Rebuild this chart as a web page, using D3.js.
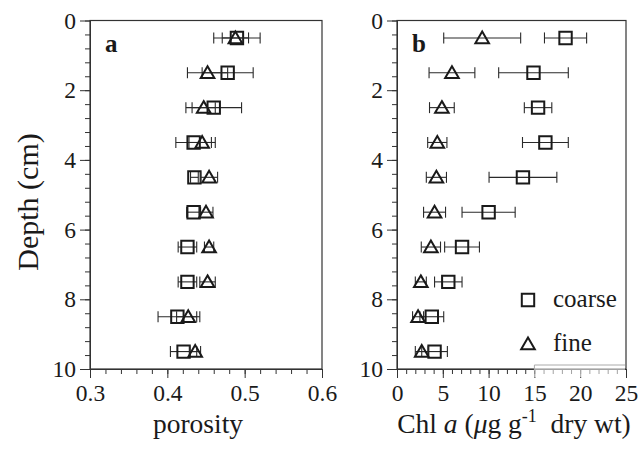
<!DOCTYPE html>
<html>
<head>
<meta charset="utf-8">
<script src="https://cdn.jsdelivr.net/npm/d3@7"></script>
<style>
  body { margin: 0; background: #fff; }
  svg text { font-family: "Liberation Serif", "Times New Roman", serif; fill: #1a1a1a; }
</style>
</head>
<body>
<svg id="chart" width="639" height="450"></svg>
<script>
// depth of each slice (cm)
var depth = [0.5, 1.5, 2.5, 3.5, 4.5, 5.5, 6.5, 7.5, 8.5, 9.5];

// porosity
var porCoarse    = [0.490, 0.478, 0.460, 0.434, 0.435, 0.434, 0.426, 0.426, 0.413, 0.421];
var porCoarseErr = [0.030, 0.033, 0.036, 0.023, 0.005, 0.009, 0.012, 0.012, 0.025, 0.017];
var porFine      = [0.488, 0.452, 0.447, 0.445, 0.454, 0.450, 0.454, 0.452, 0.427, 0.436];
var porFineErr   = [0.017, 0.026, 0.015, 0.017, 0.011, 0.009, 0.006, 0.010, 0.015, 0.007];

// Chl a (ug/g dry wt)
var chlCoarse    = [18.4, 14.9, 15.4, 16.2, 13.75, 10.0, 7.1, 5.6, 3.8, 4.1];
var chlCoarseErr = [2.3, 3.8, 1.5, 2.5, 3.7, 2.9, 1.9, 1.5, 1.3, 1.4];
var chlFine      = [9.3, 6.0, 4.9, 4.4, 4.3, 4.1, 3.7, 2.6, 2.3, 2.7];
var chlFineErr   = [4.2, 2.5, 1.35, 1.05, 1.1, 1.2, 1.05, 0.6, 0.6, 0.7];

var depthTicks = [0, 2, 4, 6, 8, 10];
var porTicks = [0.3, 0.4, 0.5, 0.6];
var chlTicks = [0, 5, 10, 15, 20, 25];
var legendNames = ["coarse", "fine"];

var svg = d3.select("#chart");
var ink = "#1a1a1a";

var y = d3.scaleLinear().domain([0, 10]).range([20.5, 369]);
var xa = d3.scaleLinear().domain([0.3, 0.6]).range([90, 322]);
var xb = d3.scaleLinear().domain([0, 25]).range([397, 626]);

var tri = "M0,-6.5L6.8,5.2L-6.8,5.2Z";
var sq = "M-6.2,-6.2H6.2V6.2H-6.2Z";

function drawPanel(x, xTicks, xMinorStep, fmt, series, label) {
  var g = svg.append("g");
  var x0 = x.range()[0], x1 = x.range()[1];
  var y0 = y.range()[0], y1 = y.range()[1];

  // minor ticks
  var dom = x.domain();
  var xMinor = d3.range(dom[0], dom[1] + xMinorStep / 2, xMinorStep);
  g.append("g")
    .attr("transform", `translate(0,${y1})`)
    .call(d3.axisBottom(x).tickValues(xMinor).tickSize(5).tickSizeOuter(0).tickFormat(""));
  g.append("g")
    .attr("transform", `translate(${x0},0)`)
    .call(d3.axisLeft(y).tickValues(d3.range(0, 10.01, 0.4)).tickSize(5).tickSizeOuter(0).tickFormat(""));

  // major ticks
  g.append("g")
    .attr("class", "xax")
    .attr("transform", `translate(0,${y1})`)
    .call(d3.axisBottom(x).tickValues(xTicks).tickSize(9).tickSizeOuter(0).tickPadding(6).tickFormat(fmt));
  g.append("g")
    .attr("class", "yax")
    .attr("transform", `translate(${x0},0)`)
    .call(d3.axisLeft(y).tickValues(depthTicks).tickSize(10).tickSizeOuter(0).tickPadding(4).tickFormat(d3.format("d")));

  g.selectAll(".tick line, .domain").attr("stroke", "#333");
  g.selectAll(".tick text").style("font-family", "Liberation Serif").style("font-size", "23.5px").attr("fill", ink);

  // frame
  g.append("rect")
    .attr("x", x0).attr("y", y0)
    .attr("width", x1 - x0).attr("height", y1 - y0)
    .attr("fill", "none").attr("stroke", "#333").attr("stroke-width", 1.2);

  // error bars + markers
  series.forEach(function(s) {
    var pts = depth.map(function(d, i) { return { d: d, v: s.vals[i], e: s.err[i] }; });
    var eb = g.append("g").attr("stroke", "#2a2a2a").attr("stroke-width", 1.1);
    eb.selectAll(".bar").data(pts).enter().append("line")
      .attr("x1", function(p) { return x(p.v - p.e); })
      .attr("x2", function(p) { return x(p.v + p.e); })
      .attr("y1", function(p) { return y(p.d); })
      .attr("y2", function(p) { return y(p.d); });
    [-1, 1].forEach(function(sign) {
      eb.selectAll(".cap" + sign).data(pts).enter().append("line")
        .attr("x1", function(p) { return x(p.v + sign * p.e); })
        .attr("x2", function(p) { return x(p.v + sign * p.e); })
        .attr("y1", function(p) { return y(p.d) - 5.5; })
        .attr("y2", function(p) { return y(p.d) + 5.5; });
    });
    g.selectAll(".m" + s.name).data(pts).enter().append("path")
      .attr("d", s.shape)
      .attr("transform", function(p) { return `translate(${x(p.v)},${y(p.d)})`; })
      .attr("fill", "none").attr("stroke", ink).attr("stroke-width", 2);
  });

  g.append("text")
    .attr("x", x0 + 15).attr("y", y0 + 31)
    .style("font-size", "25px").style("font-weight", "bold")
    .text(label);
  return g;
}

drawPanel(xa, porTicks, 0.02, d3.format(".1f"), [
  { name: "c", vals: porCoarse, err: porCoarseErr, shape: sq },
  { name: "f", vals: porFine, err: porFineErr, shape: tri }
], "a");

var gb = drawPanel(xb, chlTicks, 1, d3.format("d"), [
  { name: "c", vals: chlCoarse, err: chlCoarseErr, shape: sq },
  { name: "f", vals: chlFine, err: chlFineErr, shape: tri }
], "b");

// faint box left over at bottom right of panel b
gb.append("rect")
  .attr("x", xb(15)).attr("y", 365)
  .attr("width", xb(25) - xb(15) - 1).attr("height", 12)
  .attr("fill", "#fff").attr("fill-opacity", 0.55)
  .attr("stroke", "none");
gb.append("path")
  .attr("d", `M${xb(15)},371V365H${xb(25) - 1}`)
  .attr("fill", "none").attr("stroke", "#aaa").attr("stroke-width", 1);

// legend
var legend = svg.append("g");
[sq, tri].forEach(function(shape, i) {
  var ly = 300 + i * 44;
  legend.append("path")
    .attr("d", shape)
    .attr("transform", `translate(528,${ly})`)
    .attr("fill", "none").attr("stroke", ink).attr("stroke-width", 2);
  legend.append("text")
    .attr("x", 553).attr("y", ly + 7)
    .style("font-size", "25px")
    .text(legendNames[i]);
});

// axis titles
svg.append("text")
  .attr("transform", "translate(38,202) rotate(-90)")
  .style("text-anchor", "middle").style("font-size", "30px")
  .text("Depth (cm)");

svg.append("text")
  .attr("x", 198).attr("y", 433)
  .style("text-anchor", "middle").style("font-size", "27.5px")
  .text("porosity");

var chl = svg.append("text")
  .attr("x", 514).attr("y", 433)
  .style("text-anchor", "middle").style("font-size", "27.5px");
chl.append("tspan").text("Chl ");
chl.append("tspan").style("font-style", "italic").text("a");
chl.append("tspan").text(" (");
chl.append("tspan").style("font-style", "italic").text("\u03bc");
chl.append("tspan").text("g g");
chl.append("tspan").attr("dy", -11).style("font-size", "18px").text("-1");
chl.append("tspan").attr("dy", 11).text("\u00a0 dry wt)");
</script>
</body>
</html>
